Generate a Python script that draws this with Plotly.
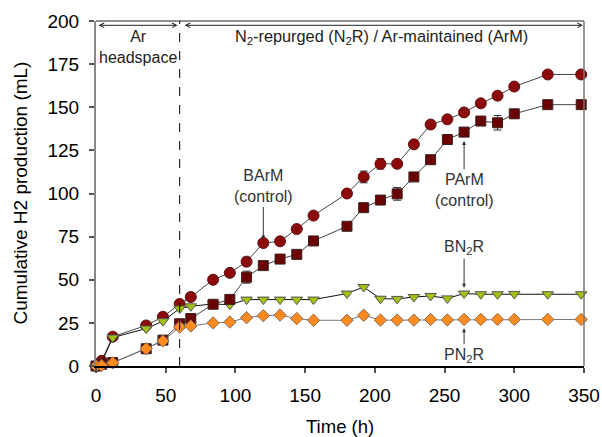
import plotly.graph_objects as go

# ---------------- data ----------------
time_h = [0, 4, 12, 36, 48, 60, 68, 84, 96, 108, 120, 132, 144, 156, 180, 192,
          204, 216, 228, 240, 252, 264, 276, 288, 300, 324, 348]

barm = [0, 3, 17, 23.5, 28.5, 36, 40, 50, 54, 60.5, 71.3, 72.3, 79.4, 87.2, 100,
        109.6, 117.2, 117.2, 128.5, 140, 143, 147, 152.3, 156.7, 162, 169, 169]
barm_err = [0, 0, 0, 0, 0, 0, 0, 0, 0, 2.5, 0, 0, 0, 0, 0,
            3.4, 3.0, 0, 0, 0, 0, 0, 0, 0, 0, 0, 0]

parm = [0, 1, 2, 10, 15, 24.5, 27.5, 35.8, 38.6, 51.5, 58.2, 62, 64.7, 72.5, 81,
        91.8, 96.2, 99.8, 109.6, 119.6, 131.3, 135.6, 142, 141, 146.2, 151.5, 151.5]
parm_err = [0, 0, 0, 0, 0, 0, 0, 0, 0, 3.5, 0, 0, 0, 0, 0,
            0, 0, 3.7, 0, 0, 0, 0, 0, 4.2, 0, 0, 0]

bn2r = [0, 2, 16.5, 21.7, 26, 33.3, 34.6, 36, 35.5, 38.5, 38.5, 38.5, 38.5, 38.5, 42,
        45.8, 39, 38.9, 40, 40.6, 39.2, 42, 41.6, 41.6, 41.8, 41.6, 41.6]

pn2r = [0, 0.3, 1.8, 10, 14.5, 22.6, 23.2, 25, 25.5, 28, 29.2, 29.5, 27.5, 26.5, 26.5,
        29.4, 26.6, 26.6, 26.6, 27, 26.7, 27, 27, 27, 27, 27, 27]

x_ticks = [0, 50, 100, 150, 200, 250, 300, 350]
y_ticks = [0, 25, 50, 75, 100, 125, 150, 175, 200]
phase_edges = [0, 60, 350]

FONT = "Liberation Sans, Arial, sans-serif"

fig = go.Figure()

def add_series(y, name, symbol, size, fill, outline, linecolor, err=None):
    kw = {}
    if err is not None:
        kw["error_y"] = dict(type="data", array=err, visible=True,
                             color="#333333", thickness=1, width=4)
    fig.add_trace(go.Scatter(
        x=time_h, y=y, name=name, mode="lines+markers",
        line=dict(color=linecolor, width=1),
        marker=dict(symbol=symbol, size=size, color=fill,
                    line=dict(color=outline, width=1)),
        cliponaxis=False, showlegend=False, **kw))

add_series(barm, "BArM", "circle", 11, "#8E0A0A", "#5A1010", "#444444", barm_err)
add_series(bn2r, "BN2R", "triangle-down", 10, "#A2C214", "#555555", "#111111")
add_series(parm, "PArM", "square", 10, "#6A0404", "#3A2020", "#444444", parm_err)
add_series(pn2r, "PN2R", "diamond", 9.5, "#FF8A1E", "#8A6A50", "#777777")

# dashed phase boundary
fig.add_shape(type="line", xref="x", yref="y", x0=phase_edges[1], x1=phase_edges[1],
              y0=0, y1=200, line=dict(color="black", width=1, dash="dash"))

# borders (top and right)
fig.add_shape(type="line", xref="paper", yref="paper", x0=0, x1=1, y0=1, y1=1,
              line=dict(color="#222222", width=1))
fig.add_shape(type="line", xref="paper", yref="paper", x0=1, x1=1, y0=0, y1=1,
              line=dict(color="#777777", width=1.5))

# phase arrows at top
arrow_y = 197.5
for a, b in [(phase_edges[0] + 0.8, phase_edges[1] - 1.5),
             (phase_edges[1] + 2.5, phase_edges[2] - 0.8)]:
    fig.add_annotation(x=b, y=arrow_y, ax=a, ay=arrow_y, xref="x", yref="y",
                       axref="x", ayref="y", text="", showarrow=True,
                       arrowhead=5, startarrowhead=5, arrowside="end+start",
                       arrowsize=0.9, startarrowsize=0.9, arrowwidth=1,
                       arrowcolor="#222222")

fig.add_annotation(x=30, y=184.8, xref="x", yref="y", text="Ar<br>headspace",
                   showarrow=False, font=dict(family=FONT, size=16, color="#222222"),
                   yanchor="middle")
fig.add_annotation(x=205, y=190.5, xref="x", yref="y",
                   text="N<sub>2</sub>-repurged (N<sub>2</sub>R) / Ar-maintained (ArM)",
                   showarrow=False, font=dict(family=FONT, size=16.3, color="#222222"),
                   yanchor="middle")

# pointer labels
def pointer(x, y, text, ay):
    fig.add_annotation(x=x, y=y, xref="x", yref="y", text=text, showarrow=True,
                       ax=0, ay=ay, arrowhead=2, arrowsize=0.8, arrowwidth=1,
                       arrowcolor="#333333",
                       font=dict(family=FONT, size=16, color="#333333"))

pointer(120, 73.4, "BArM<br>(control)", -53)
pointer(264, 130.5, "PArM<br>(control)", 49)
pointer(264, 45.4, "BN<sub>2</sub>R", -40)
pointer(264, 21.9, "PN<sub>2</sub>R", 27)

# axis titles
fig.add_annotation(x=0.5, y=0, xref="paper", yref="paper", text="Time (h)",
                   showarrow=False, xanchor="center", yanchor="middle", yshift=-60,
                   font=dict(family=FONT, size=18.5, color="black"))
fig.add_annotation(x=0, y=0.5, xref="paper", yref="paper",
                   text="Cumulative H2 production (mL)", textangle=-90,
                   showarrow=False, xanchor="center", yanchor="middle", xshift=-76,
                   font=dict(family=FONT, size=19, color="black"))

fig.update_layout(
    width=602, height=437,
    margin=dict(l=96, r=18, t=21, b=71),
    paper_bgcolor="white", plot_bgcolor="white",
    font=dict(family=FONT, size=19, color="black"),
    xaxis=dict(range=[0, 350], tickvals=x_ticks, showgrid=False, zeroline=False,
               showline=True, linecolor="black", linewidth=1.5,
               ticks="outside", ticklen=5, tickwidth=1.5, tickcolor="#555555",
               ticklabelstandoff=6, automargin=False),
    yaxis=dict(range=[0, 200], tickvals=y_ticks, showgrid=False, zeroline=False,
               showline=True, linecolor="#888888", linewidth=2,
               ticks="outside", ticklen=5, tickwidth=1.5, tickcolor="#555555",
               ticklabelstandoff=6, automargin=False),
)

fig.write_html("out.html", config={"displayModeBar": False},
               post_script="document.body.style.margin='0';document.body.style.overflow='hidden';")
